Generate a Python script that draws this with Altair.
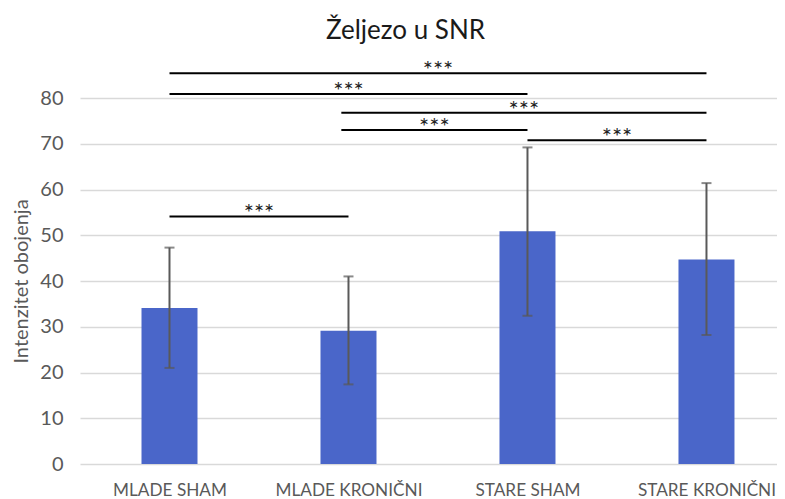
import altair as alt
import pandas as pd
import json

categories = ["MLADE SHAM", "MLADE KRONIČNI", "STARE SHAM", "STARE KRONIČNI"]
positions = [0, 1, 2, 3]
means = [34.1, 29.1, 50.9, 44.7]
err_low = [21.0, 17.4, 32.4, 28.2]
err_high = [47.3, 41.0, 69.2, 61.4]

sig_start = [0, 0, 0.96, 0.96, 2, 0]
sig_end = [3, 2, 3, 2, 3, 1]
sig_level = [85.4, 80.9, 76.8, 73.0, 70.75, 54.1]
sig_label = ["***", "***", "***", "***", "***", "***"]

FONT = "Lato"
GRAY = "#595959"

bars_df = pd.DataFrame({
    "pos": positions, "cat": categories, "mean": means,
    "lo": err_low, "hi": err_high,
})
sig_df = pd.DataFrame({
    "s": sig_start, "e": sig_end, "lvl": sig_level, "lab": sig_label,
})

label_expr = json.dumps(categories, ensure_ascii=False) + "[datum.value]"

xscale = alt.Scale(domain=[-0.5, 3.394], nice=False, zero=False, padding=0)
yscale = alt.Scale(domain=[0, 80], nice=False)

xaxis = alt.Axis(values=positions, labelExpr=label_expr, title=None, grid=False,
                 domain=False, ticks=False, labelFont=FONT, labelFontSize=17.2,
                 labelColor=GRAY, labelPadding=17)
yaxis = alt.Axis(values=list(range(0, 81, 10)), title="Intenzitet obojenja",
                 grid=True, gridColor="#d9d9d9", gridWidth=1.5, domain=False,
                 ticks=False, labelFont=FONT, labelFontSize=20, labelColor=GRAY,
                 labelPadding=17, titleFont=FONT, titleFontSize=20,
                 titleFontWeight="normal", titleColor=GRAY,
                 titleX=-59, titleBaseline="middle")

base = alt.Chart(bars_df)

bars = base.mark_bar(size=56, color="#4a66c9").encode(
    x=alt.X("pos:Q", scale=xscale, axis=xaxis),
    y=alt.Y("mean:Q", scale=yscale, axis=yaxis),
)
err = base.mark_rule(color=GRAY, strokeWidth=2).encode(
    x="pos:Q", y="lo:Q", y2="hi:Q",
)
cap_lo = base.mark_tick(color=GRAY, thickness=2, size=10, orient="horizontal").encode(
    x="pos:Q", y="lo:Q",
)
cap_hi = base.mark_tick(color=GRAY, thickness=2, size=10, orient="horizontal").encode(
    x="pos:Q", y="hi:Q",
)

sig = alt.Chart(sig_df)
sig_lines = sig.mark_rule(color="black", strokeWidth=2).encode(
    x="s:Q", x2="e:Q", y="lvl:Q",
)
sig_text = sig.transform_calculate(mid="(datum.s + datum.e) / 2").mark_text(
    font=FONT, fontSize=24, color="#222222", baseline="middle", dy=-2
).encode(x="mid:Q", y="lvl:Q", text="lab:N")

chart = alt.layer(bars, err, cap_lo, cap_hi, sig_lines, sig_text).properties(
    width=697, height=366,
    title=alt.TitleParams("Željezo u SNR", font=FONT, fontSize=26,
                          fontWeight="normal", color="#1a1a1a",
                          anchor="middle", dx=-23, offset=15),
    autosize=alt.AutoSizeParams(type="none"),
    padding={"left": 72, "top": 90, "right": 0, "bottom": 36},
).configure_view(stroke=None)

chart.save("out.html", embed_options={"renderer": "svg", "actions": False})
